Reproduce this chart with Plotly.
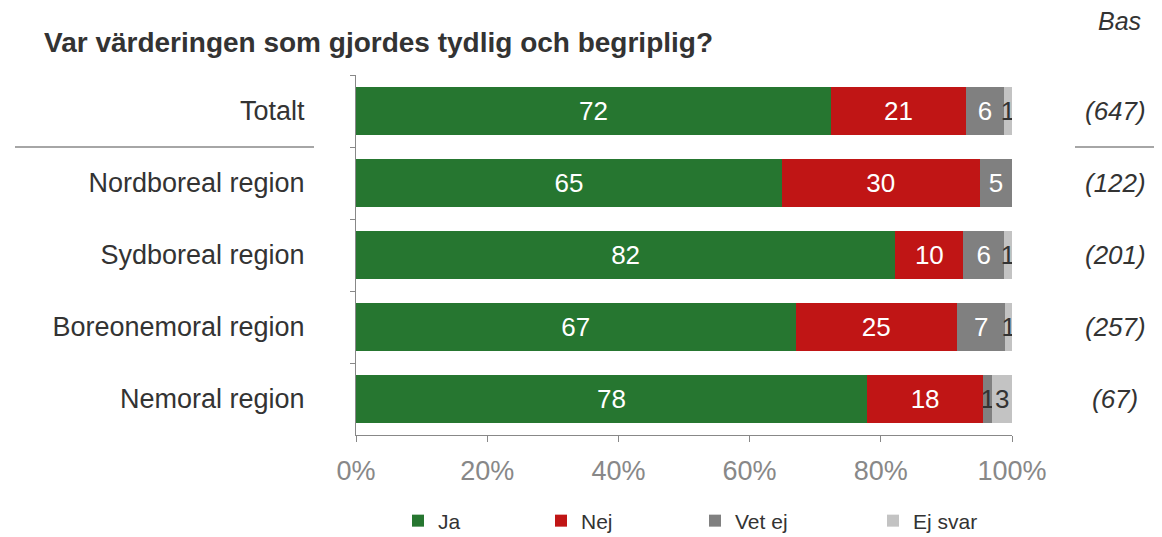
import plotly.graph_objects as go

categories = ["Totalt", "Nordboreal region", "Sydboreal region", "Boreonemoral region", "Nemoral region"]
bases = ["(647)", "(122)", "(201)", "(257)", "(67)"]
ja = [72.4, 64.9, 82.2, 67.0, 77.9]
nej = [20.6, 30.2, 10.4, 24.6, 17.7]
vet_ej = [5.8, 4.9, 6.2, 7.4, 1.4]
ej_svar = [1.2, 0.0, 1.2, 1.0, 3.0]
x_ticks = [0, 20, 40, 60, 80, 100]
x_tick_labels = ["0%", "20%", "40%", "60%", "80%", "100%"]

series = [
    ("Ja", ja, "#267630"),
    ("Nej", nej, "#C01515"),
    ("Vet ej", vet_ej, "#808080"),
    ("Ej svar", ej_svar, "#C3C3C3"),
]

FONT = "Liberation Sans, Arial, sans-serif"
OFF = 8  # page body margin offset
W, H = 1162 - OFF, 537 - OFF
L, R, T, B = 356 - OFF, 150, 75 - OFF, 102
PW, PH = W - L - R, H - T - B


def px_x(page_x):
    return (page_x - OFF - L) / PW


def px_y(page_y):
    return 1 - (page_y - OFF - T) / PH


legend_page_x = [398, 541, 695, 873]
legend_names = ["legend", "legend2", "legend3", "legend4"]

fig = go.Figure()
for (name, vals, color), lg in zip(series, legend_names):
    texts = [str(round(v)) if v >= 0.5 else "" for v in vals]
    if name == "Ej svar":
        tcol = ["#333333"] * len(vals)
    else:
        tcol = ["#FFFFFF" if v >= 3 else "#333333" for v in vals]
    fig.add_trace(go.Bar(
        name=name, y=categories, x=vals, orientation="h",
        marker=dict(color=color, line=dict(width=0)),
        text=texts, textposition="inside", insidetextanchor="middle",
        constraintext="none",
        textfont=dict(color=tcol, size=26, family=FONT),
        hoverinfo="skip", legend=lg,
    ))

layout_legends = {}
for lg, lx in zip(legend_names, legend_page_x):
    layout_legends[lg] = dict(
        orientation="h", xref="container", yref="container",
        x=(lx - OFF) / W, y=1 - (521 - OFF) / H, xanchor="left", yanchor="middle",
        font=dict(size=21, color="#333333", family=FONT), bgcolor="rgba(0,0,0,0)",
    )

fig.update_layout(
    barmode="stack", bargap=0.34,
    width=W, height=H,
    margin=dict(l=L, r=R, t=T, b=B),
    paper_bgcolor="white", plot_bgcolor="white",
    font=dict(family=FONT, color="#333333"),
    uniformtext=dict(mode="show", minsize=8),
    showlegend=True,
    xaxis=dict(range=[0, 100], tickvals=x_ticks, ticktext=x_tick_labels, automargin=False,
               showgrid=False, zeroline=False, showline=True, linecolor="#888888", linewidth=1,
               ticks="outside", ticklen=6, tickcolor="#888888",
               tickfont=dict(size=27, color="#888888"), ticklabelstandoff=6, fixedrange=True),
    yaxis=dict(autorange="reversed", showgrid=False, zeroline=False, showline=True, automargin=False,
               linecolor="#888888", linewidth=1, ticks="outside", ticklen=5, tickcolor="#888888",
               tickson="boundaries", tickfont=dict(size=27, color="#333333"),
               ticklabelstandoff=45, fixedrange=True),
    **layout_legends,
)

fig.add_annotation(text="<b>Var värderingen som gjordes tydlig och begriplig?</b>",
                   xref="paper", yref="paper", x=px_x(42), y=px_y(42),
                   xanchor="left", yanchor="middle", showarrow=False,
                   font=dict(size=28, color="#333333", family=FONT))
fig.add_annotation(text="<i>Bas</i>", xref="paper", yref="paper",
                   x=px_x(1143), y=px_y(21),
                   xanchor="right", yanchor="middle", showarrow=False,
                   font=dict(size=25, color="#333333", family=FONT))
for cat, b in zip(categories, bases):
    fig.add_annotation(text="<i>" + b + "</i>", xref="paper", yref="y",
                       x=px_x(1115), y=cat, xanchor="center", yanchor="middle",
                       showarrow=False, font=dict(size=26, color="#333333", family=FONT))

for x0, x1 in [(px_x(15), px_x(314)), (px_x(1075), px_x(1165))]:
    fig.add_shape(type="line", xref="paper", yref="y", x0=x0, x1=x1, y0=0.5, y1=0.5,
                  line=dict(color="#888888", width=1.5))

fig.write_html("out.html")
